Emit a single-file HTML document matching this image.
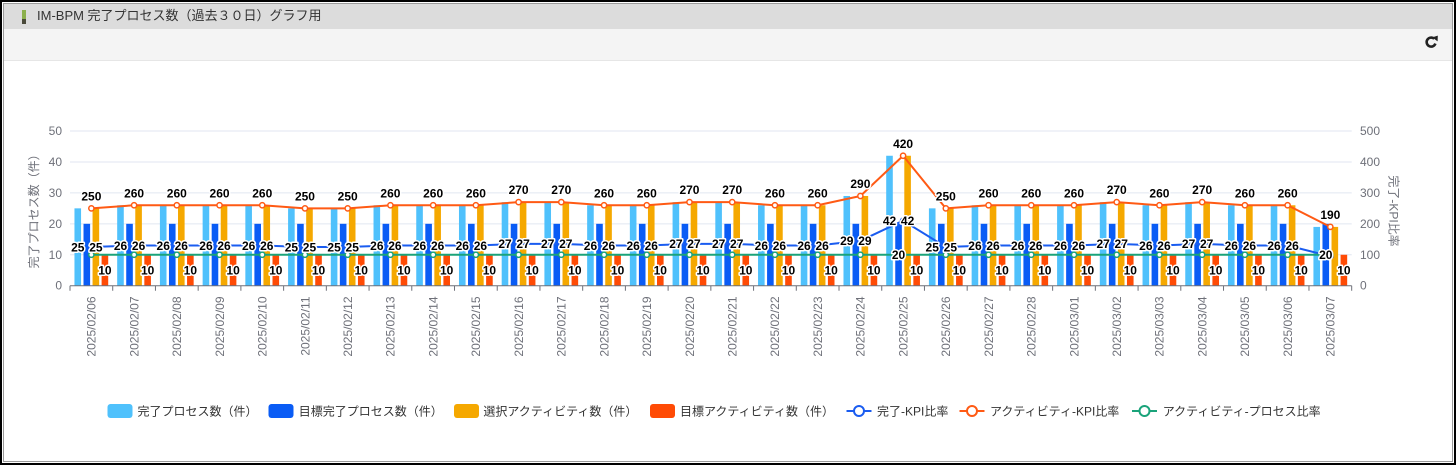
<!DOCTYPE html>
<html><head><meta charset="utf-8">
<style>
html,body{margin:0;padding:0;background:#fff;}
body{width:1456px;height:465px;position:relative;overflow:hidden;font-family:"Liberation Sans","Noto Sans CJK JP",sans-serif;}
.abs{position:absolute;box-sizing:border-box;}
</style></head>
<body>
<div class="abs" style="left:0;top:0;width:1456px;height:465px;border:2px solid #000;background:#fff;"></div>
<div class="abs" style="left:3px;top:3px;width:1450px;height:459px;border:1px solid #9a9a9a;"></div>
<div class="abs" style="left:4px;top:4px;width:1448px;height:25px;background:#dcdcdc;"></div>
<div class="abs" style="left:4px;top:29px;width:1448px;height:32px;background:#f4f4f4;border-bottom:1px solid #e6e6e6;"></div>
<div class="abs" style="left:22px;top:10px;width:4px;height:9px;background:#8cb04c;"></div>
<div class="abs" style="left:22px;top:19px;width:4px;height:5px;background:#4a4a3a;"></div>
<div class="abs" style="left:37px;top:8px;font-size:13px;line-height:16px;color:#333;white-space:nowrap;">IM-BPM 完了プロセス数（過去３０日）グラフ用</div>

<svg class="abs" style="left:0;top:0" width="1456" height="465" viewBox="0 0 1456 465" xmlns="http://www.w3.org/2000/svg">
<style>
.a{fill:#4fc1fc}.b{fill:#0a5cf5}.c{fill:#f5a800}.d{fill:#ff4b05}
.ax{font-family:"Liberation Sans","Noto Sans CJK JP",sans-serif;font-size:12px;fill:#6e7079}
.l text{font-family:"Liberation Sans",sans-serif;font-weight:bold;font-size:12px;fill:#000;stroke:#fff;stroke-width:3;paint-order:stroke;stroke-linejoin:round;text-anchor:middle}
.lg{font-family:"Liberation Sans","Noto Sans CJK JP",sans-serif;font-size:12px;fill:#333}
</style>
<defs>
<g id="g25"><rect class="a" x="-16.9" y="208.35" width="6.6" height="77.35"/><rect class="b" x="-7.85" y="223.82" width="6.6" height="61.88"/><rect class="c" x="1.2" y="208.35" width="6.6" height="77.35"/><rect class="d" x="10.25" y="254.76" width="6.6" height="30.94"/></g>
<g id="g26"><rect class="a" x="-16.9" y="205.26" width="6.6" height="80.44"/><rect class="b" x="-7.85" y="223.82" width="6.6" height="61.88"/><rect class="c" x="1.2" y="205.26" width="6.6" height="80.44"/><rect class="d" x="10.25" y="254.76" width="6.6" height="30.94"/></g>
<g id="g27"><rect class="a" x="-16.9" y="202.16" width="6.6" height="83.54"/><rect class="b" x="-7.85" y="223.82" width="6.6" height="61.88"/><rect class="c" x="1.2" y="202.16" width="6.6" height="83.54"/><rect class="d" x="10.25" y="254.76" width="6.6" height="30.94"/></g>
<g id="g29"><rect class="a" x="-16.9" y="195.97" width="6.6" height="89.73"/><rect class="b" x="-7.85" y="223.82" width="6.6" height="61.88"/><rect class="c" x="1.2" y="195.97" width="6.6" height="89.73"/><rect class="d" x="10.25" y="254.76" width="6.6" height="30.94"/></g>
<g id="g42"><rect class="a" x="-16.9" y="155.75" width="6.6" height="129.95"/><rect class="b" x="-7.85" y="223.82" width="6.6" height="61.88"/><rect class="c" x="1.2" y="155.75" width="6.6" height="129.95"/><rect class="d" x="10.25" y="254.76" width="6.6" height="30.94"/></g>
<g id="g19"><rect class="a" x="-16.9" y="226.91" width="6.6" height="58.79"/><rect class="b" x="-7.85" y="223.82" width="6.6" height="61.88"/><rect class="c" x="1.2" y="226.91" width="6.6" height="58.79"/><rect class="d" x="10.25" y="254.76" width="6.6" height="30.94"/></g>
</defs>

<!-- refresh icon -->
<path d="M1434.2 38.8 A4.5 4.5 0 1 0 1435.4 43.6" stroke="#222" stroke-width="2.6" fill="none"/>
<polygon points="1432.2,37.4 1437.8,35.6 1437.6,41.4" fill="#222"/>

<!-- gridlines -->
<g stroke="#e0e6f1" stroke-width="1">
<line x1="70" y1="131" x2="1351.7" y2="131"/>
<line x1="70" y1="161.94" x2="1351.7" y2="161.94"/>
<line x1="70" y1="192.88" x2="1351.7" y2="192.88"/>
<line x1="70" y1="223.82" x2="1351.7" y2="223.82"/>
<line x1="70" y1="254.76" x2="1351.7" y2="254.76"/>
</g>

<!-- y labels -->
<g class="ax" text-anchor="end">
<text x="62" y="289.7">0</text><text x="62" y="258.76">10</text><text x="62" y="227.82">20</text><text x="62" y="196.88">30</text><text x="62" y="165.94">40</text><text x="62" y="135">50</text>
</g>
<g class="ax" text-anchor="start">
<text x="1360" y="289.7">0</text><text x="1360" y="258.76">100</text><text x="1360" y="227.82">200</text><text x="1360" y="196.88">300</text><text x="1360" y="165.94">400</text><text x="1360" y="135">500</text>
</g>
<text class="ax" text-anchor="middle" transform="translate(38 208.4) rotate(-90)">完了プロセス数（件）</text>
<text class="ax" text-anchor="middle" transform="translate(1389.5 211) rotate(90)">完了-KPI比率</text>

<!-- bars -->
<use href="#g25" x="91.36"/><use href="#g26" x="134.08"/><use href="#g26" x="176.81"/><use href="#g26" x="219.53"/><use href="#g26" x="262.25"/>
<use href="#g25" x="304.98"/><use href="#g25" x="347.70"/><use href="#g26" x="390.42"/><use href="#g26" x="433.15"/><use href="#g26" x="475.87"/>
<use href="#g27" x="518.59"/><use href="#g27" x="561.31"/><use href="#g26" x="604.04"/><use href="#g26" x="646.76"/><use href="#g27" x="689.48"/>
<use href="#g27" x="732.21"/><use href="#g26" x="774.93"/><use href="#g26" x="817.65"/><use href="#g29" x="860.38"/><use href="#g42" x="903.10"/>
<use href="#g25" x="945.82"/><use href="#g26" x="988.54"/><use href="#g26" x="1031.27"/><use href="#g26" x="1073.99"/><use href="#g27" x="1116.71"/>
<use href="#g26" x="1159.44"/><use href="#g27" x="1202.16"/><use href="#g26" x="1244.88"/><use href="#g26" x="1287.61"/><use href="#g19" x="1330.33"/>

<!-- axis -->
<line x1="70" y1="285.7" x2="1351.7" y2="285.7" stroke="#6e7079" stroke-width="1"/>
<path stroke="#6e7079" stroke-width="1" fill="none" d="M70 285.7v5M112.72 285.7v5M155.45 285.7v5M198.17 285.7v5M240.89 285.7v5M283.62 285.7v5M326.34 285.7v5M369.06 285.7v5M411.78 285.7v5M454.51 285.7v5M497.23 285.7v5M539.95 285.7v5M582.68 285.7v5M625.40 285.7v5M668.12 285.7v5M710.85 285.7v5M753.57 285.7v5M796.29 285.7v5M839.01 285.7v5M881.74 285.7v5M924.46 285.7v5M967.18 285.7v5M1009.91 285.7v5M1052.63 285.7v5M1095.35 285.7v5M1138.08 285.7v5M1180.80 285.7v5M1223.52 285.7v5M1266.24 285.7v5M1308.97 285.7v5M1351.69 285.7v5"/>

<!-- lines -->
<polyline fill="none" stroke="#1a5cf0" stroke-width="2" stroke-linejoin="round" points="91.36,247.0 134.08,245.5 176.81,245.5 219.53,245.5 262.25,245.5 304.98,247.0 347.70,247.0 390.42,245.5 433.15,245.5 475.87,245.5 518.59,243.9 561.31,243.9 604.04,245.5 646.76,245.5 689.48,243.9 732.21,243.9 774.93,245.5 817.65,245.5 860.38,240.8 903.10,220.7 945.82,247.0 988.54,245.5 1031.27,245.5 1073.99,245.5 1116.71,243.9 1159.44,245.5 1202.16,243.9 1244.88,245.5 1287.61,245.5 1330.33,256.3"/>
<polyline fill="none" stroke="#ff5a14" stroke-width="2" stroke-linejoin="round" points="91.36,208.35 134.08,205.26 176.81,205.26 219.53,205.26 262.25,205.26 304.98,208.35 347.70,208.35 390.42,205.26 433.15,205.26 475.87,205.26 518.59,202.16 561.31,202.16 604.04,205.26 646.76,205.26 689.48,202.16 732.21,202.16 774.93,205.26 817.65,205.26 860.38,195.97 903.10,155.75 945.82,208.35 988.54,205.26 1031.27,205.26 1073.99,205.26 1116.71,202.16 1159.44,205.26 1202.16,202.16 1244.88,205.26 1287.61,205.26 1330.33,226.91"/>
<line x1="91.36" y1="254.76" x2="1330.33" y2="254.76" stroke="#1aa37a" stroke-width="2"/>

<!-- markers -->
<g fill="#fff" stroke="#1a5cf0" stroke-width="1.5">
<circle cx="91.36" cy="247.0" r="2.6"/><circle cx="134.08" cy="245.5" r="2.6"/><circle cx="176.81" cy="245.5" r="2.6"/><circle cx="219.53" cy="245.5" r="2.6"/><circle cx="262.25" cy="245.5" r="2.6"/><circle cx="304.98" cy="247.0" r="2.6"/><circle cx="347.70" cy="247.0" r="2.6"/><circle cx="390.42" cy="245.5" r="2.6"/><circle cx="433.15" cy="245.5" r="2.6"/><circle cx="475.87" cy="245.5" r="2.6"/><circle cx="518.59" cy="243.9" r="2.6"/><circle cx="561.31" cy="243.9" r="2.6"/><circle cx="604.04" cy="245.5" r="2.6"/><circle cx="646.76" cy="245.5" r="2.6"/><circle cx="689.48" cy="243.9" r="2.6"/><circle cx="732.21" cy="243.9" r="2.6"/><circle cx="774.93" cy="245.5" r="2.6"/><circle cx="817.65" cy="245.5" r="2.6"/><circle cx="860.38" cy="240.8" r="2.6"/><circle cx="903.10" cy="220.7" r="2.6"/><circle cx="945.82" cy="247.0" r="2.6"/><circle cx="988.54" cy="245.5" r="2.6"/><circle cx="1031.27" cy="245.5" r="2.6"/><circle cx="1073.99" cy="245.5" r="2.6"/><circle cx="1116.71" cy="243.9" r="2.6"/><circle cx="1159.44" cy="245.5" r="2.6"/><circle cx="1202.16" cy="243.9" r="2.6"/><circle cx="1244.88" cy="245.5" r="2.6"/><circle cx="1287.61" cy="245.5" r="2.6"/><circle cx="1330.33" cy="256.3" r="2.6"/>
</g>
<g fill="#fff" stroke="#ff5a14" stroke-width="1.5">
<circle cx="91.36" cy="208.35" r="2.6"/><circle cx="134.08" cy="205.26" r="2.6"/><circle cx="176.81" cy="205.26" r="2.6"/><circle cx="219.53" cy="205.26" r="2.6"/><circle cx="262.25" cy="205.26" r="2.6"/><circle cx="304.98" cy="208.35" r="2.6"/><circle cx="347.70" cy="208.35" r="2.6"/><circle cx="390.42" cy="205.26" r="2.6"/><circle cx="433.15" cy="205.26" r="2.6"/><circle cx="475.87" cy="205.26" r="2.6"/><circle cx="518.59" cy="202.16" r="2.6"/><circle cx="561.31" cy="202.16" r="2.6"/><circle cx="604.04" cy="205.26" r="2.6"/><circle cx="646.76" cy="205.26" r="2.6"/><circle cx="689.48" cy="202.16" r="2.6"/><circle cx="732.21" cy="202.16" r="2.6"/><circle cx="774.93" cy="205.26" r="2.6"/><circle cx="817.65" cy="205.26" r="2.6"/><circle cx="860.38" cy="195.97" r="2.6"/><circle cx="903.10" cy="155.75" r="2.6"/><circle cx="945.82" cy="208.35" r="2.6"/><circle cx="988.54" cy="205.26" r="2.6"/><circle cx="1031.27" cy="205.26" r="2.6"/><circle cx="1073.99" cy="205.26" r="2.6"/><circle cx="1116.71" cy="202.16" r="2.6"/><circle cx="1159.44" cy="205.26" r="2.6"/><circle cx="1202.16" cy="202.16" r="2.6"/><circle cx="1244.88" cy="205.26" r="2.6"/><circle cx="1287.61" cy="205.26" r="2.6"/><circle cx="1330.33" cy="226.91" r="2.6"/>
</g>
<g fill="#fff" stroke="#1aa37a" stroke-width="1.5">
<circle cx="91.36" cy="254.76" r="2.6"/><circle cx="134.08" cy="254.76" r="2.6"/><circle cx="176.81" cy="254.76" r="2.6"/><circle cx="219.53" cy="254.76" r="2.6"/><circle cx="262.25" cy="254.76" r="2.6"/><circle cx="304.98" cy="254.76" r="2.6"/><circle cx="347.70" cy="254.76" r="2.6"/><circle cx="390.42" cy="254.76" r="2.6"/><circle cx="433.15" cy="254.76" r="2.6"/><circle cx="475.87" cy="254.76" r="2.6"/><circle cx="518.59" cy="254.76" r="2.6"/><circle cx="561.31" cy="254.76" r="2.6"/><circle cx="604.04" cy="254.76" r="2.6"/><circle cx="646.76" cy="254.76" r="2.6"/><circle cx="689.48" cy="254.76" r="2.6"/><circle cx="732.21" cy="254.76" r="2.6"/><circle cx="774.93" cy="254.76" r="2.6"/><circle cx="817.65" cy="254.76" r="2.6"/><circle cx="860.38" cy="254.76" r="2.6"/><circle cx="903.10" cy="254.76" r="2.6"/><circle cx="945.82" cy="254.76" r="2.6"/><circle cx="988.54" cy="254.76" r="2.6"/><circle cx="1031.27" cy="254.76" r="2.6"/><circle cx="1073.99" cy="254.76" r="2.6"/><circle cx="1116.71" cy="254.76" r="2.6"/><circle cx="1159.44" cy="254.76" r="2.6"/><circle cx="1202.16" cy="254.76" r="2.6"/><circle cx="1244.88" cy="254.76" r="2.6"/><circle cx="1287.61" cy="254.76" r="2.6"/><circle cx="1330.33" cy="254.76" r="2.6"/>
</g>

<!-- x labels -->
<g class="ax" text-anchor="end">
<text transform="translate(95.66 296.5) rotate(-90)">2025/02/06</text>
<text transform="translate(138.38 296.5) rotate(-90)">2025/02/07</text>
<text transform="translate(181.11 296.5) rotate(-90)">2025/02/08</text>
<text transform="translate(223.83 296.5) rotate(-90)">2025/02/09</text>
<text transform="translate(266.55 296.5) rotate(-90)">2025/02/10</text>
<text transform="translate(309.28 296.5) rotate(-90)">2025/02/11</text>
<text transform="translate(352.00 296.5) rotate(-90)">2025/02/12</text>
<text transform="translate(394.72 296.5) rotate(-90)">2025/02/13</text>
<text transform="translate(437.45 296.5) rotate(-90)">2025/02/14</text>
<text transform="translate(480.17 296.5) rotate(-90)">2025/02/15</text>
<text transform="translate(522.89 296.5) rotate(-90)">2025/02/16</text>
<text transform="translate(565.61 296.5) rotate(-90)">2025/02/17</text>
<text transform="translate(608.34 296.5) rotate(-90)">2025/02/18</text>
<text transform="translate(651.06 296.5) rotate(-90)">2025/02/19</text>
<text transform="translate(693.78 296.5) rotate(-90)">2025/02/20</text>
<text transform="translate(736.51 296.5) rotate(-90)">2025/02/21</text>
<text transform="translate(779.23 296.5) rotate(-90)">2025/02/22</text>
<text transform="translate(821.95 296.5) rotate(-90)">2025/02/23</text>
<text transform="translate(864.68 296.5) rotate(-90)">2025/02/24</text>
<text transform="translate(907.40 296.5) rotate(-90)">2025/02/25</text>
<text transform="translate(950.12 296.5) rotate(-90)">2025/02/26</text>
<text transform="translate(992.84 296.5) rotate(-90)">2025/02/27</text>
<text transform="translate(1035.57 296.5) rotate(-90)">2025/02/28</text>
<text transform="translate(1078.29 296.5) rotate(-90)">2025/03/01</text>
<text transform="translate(1121.01 296.5) rotate(-90)">2025/03/02</text>
<text transform="translate(1163.74 296.5) rotate(-90)">2025/03/03</text>
<text transform="translate(1206.46 296.5) rotate(-90)">2025/03/04</text>
<text transform="translate(1249.18 296.5) rotate(-90)">2025/03/05</text>
<text transform="translate(1291.91 296.5) rotate(-90)">2025/03/06</text>
<text transform="translate(1334.63 296.5) rotate(-90)">2025/03/07</text>
</g>

<!-- data labels -->
<g class="l">
<g transform="translate(91.36 0)"><text x="-13.6" y="251.3">25</text><text x="4.5" y="251.3">25</text><text x="13.55" y="274.5">10</text><text x="0" y="200.35">250</text></g>
<g transform="translate(134.08 0)"><text x="-13.6" y="249.8">26</text><text x="4.5" y="249.8">26</text><text x="13.55" y="274.5">10</text><text x="0" y="197.26">260</text></g>
<g transform="translate(176.81 0)"><text x="-13.6" y="249.8">26</text><text x="4.5" y="249.8">26</text><text x="13.55" y="274.5">10</text><text x="0" y="197.26">260</text></g>
<g transform="translate(219.53 0)"><text x="-13.6" y="249.8">26</text><text x="4.5" y="249.8">26</text><text x="13.55" y="274.5">10</text><text x="0" y="197.26">260</text></g>
<g transform="translate(262.25 0)"><text x="-13.6" y="249.8">26</text><text x="4.5" y="249.8">26</text><text x="13.55" y="274.5">10</text><text x="0" y="197.26">260</text></g>
<g transform="translate(304.98 0)"><text x="-13.6" y="251.3">25</text><text x="4.5" y="251.3">25</text><text x="13.55" y="274.5">10</text><text x="0" y="200.35">250</text></g>
<g transform="translate(347.70 0)"><text x="-13.6" y="251.3">25</text><text x="4.5" y="251.3">25</text><text x="13.55" y="274.5">10</text><text x="0" y="200.35">250</text></g>
<g transform="translate(390.42 0)"><text x="-13.6" y="249.8">26</text><text x="4.5" y="249.8">26</text><text x="13.55" y="274.5">10</text><text x="0" y="197.26">260</text></g>
<g transform="translate(433.15 0)"><text x="-13.6" y="249.8">26</text><text x="4.5" y="249.8">26</text><text x="13.55" y="274.5">10</text><text x="0" y="197.26">260</text></g>
<g transform="translate(475.87 0)"><text x="-13.6" y="249.8">26</text><text x="4.5" y="249.8">26</text><text x="13.55" y="274.5">10</text><text x="0" y="197.26">260</text></g>
<g transform="translate(518.59 0)"><text x="-13.6" y="248.2">27</text><text x="4.5" y="248.2">27</text><text x="13.55" y="274.5">10</text><text x="0" y="194.16">270</text></g>
<g transform="translate(561.31 0)"><text x="-13.6" y="248.2">27</text><text x="4.5" y="248.2">27</text><text x="13.55" y="274.5">10</text><text x="0" y="194.16">270</text></g>
<g transform="translate(604.04 0)"><text x="-13.6" y="249.8">26</text><text x="4.5" y="249.8">26</text><text x="13.55" y="274.5">10</text><text x="0" y="197.26">260</text></g>
<g transform="translate(646.76 0)"><text x="-13.6" y="249.8">26</text><text x="4.5" y="249.8">26</text><text x="13.55" y="274.5">10</text><text x="0" y="197.26">260</text></g>
<g transform="translate(689.48 0)"><text x="-13.6" y="248.2">27</text><text x="4.5" y="248.2">27</text><text x="13.55" y="274.5">10</text><text x="0" y="194.16">270</text></g>
<g transform="translate(732.21 0)"><text x="-13.6" y="248.2">27</text><text x="4.5" y="248.2">27</text><text x="13.55" y="274.5">10</text><text x="0" y="194.16">270</text></g>
<g transform="translate(774.93 0)"><text x="-13.6" y="249.8">26</text><text x="4.5" y="249.8">26</text><text x="13.55" y="274.5">10</text><text x="0" y="197.26">260</text></g>
<g transform="translate(817.65 0)"><text x="-13.6" y="249.8">26</text><text x="4.5" y="249.8">26</text><text x="13.55" y="274.5">10</text><text x="0" y="197.26">260</text></g>
<g transform="translate(860.38 0)"><text x="-13.6" y="245.1">29</text><text x="4.5" y="245.1">29</text><text x="13.55" y="274.5">10</text><text x="0" y="187.97">290</text></g>
<g transform="translate(903.10 0)"><text x="-13.6" y="225.0">42</text><text x="4.5" y="225.0">42</text><text x="-4.55" y="259.1">20</text><text x="13.55" y="274.5">10</text><text x="0" y="147.75">420</text></g>
<g transform="translate(945.82 0)"><text x="-13.6" y="251.3">25</text><text x="4.5" y="251.3">25</text><text x="13.55" y="274.5">10</text><text x="0" y="200.35">250</text></g>
<g transform="translate(988.54 0)"><text x="-13.6" y="249.8">26</text><text x="4.5" y="249.8">26</text><text x="13.55" y="274.5">10</text><text x="0" y="197.26">260</text></g>
<g transform="translate(1031.27 0)"><text x="-13.6" y="249.8">26</text><text x="4.5" y="249.8">26</text><text x="13.55" y="274.5">10</text><text x="0" y="197.26">260</text></g>
<g transform="translate(1073.99 0)"><text x="-13.6" y="249.8">26</text><text x="4.5" y="249.8">26</text><text x="13.55" y="274.5">10</text><text x="0" y="197.26">260</text></g>
<g transform="translate(1116.71 0)"><text x="-13.6" y="248.2">27</text><text x="4.5" y="248.2">27</text><text x="13.55" y="274.5">10</text><text x="0" y="194.16">270</text></g>
<g transform="translate(1159.44 0)"><text x="-13.6" y="249.8">26</text><text x="4.5" y="249.8">26</text><text x="13.55" y="274.5">10</text><text x="0" y="197.26">260</text></g>
<g transform="translate(1202.16 0)"><text x="-13.6" y="248.2">27</text><text x="4.5" y="248.2">27</text><text x="13.55" y="274.5">10</text><text x="0" y="194.16">270</text></g>
<g transform="translate(1244.88 0)"><text x="-13.6" y="249.8">26</text><text x="4.5" y="249.8">26</text><text x="13.55" y="274.5">10</text><text x="0" y="197.26">260</text></g>
<g transform="translate(1287.61 0)"><text x="-13.6" y="249.8">26</text><text x="4.5" y="249.8">26</text><text x="13.55" y="274.5">10</text><text x="0" y="197.26">260</text></g>
<g transform="translate(1330.33 0)"><text x="-4.55" y="259.1">20</text><text x="13.55" y="274.5">10</text><text x="0" y="218.9">190</text></g>
</g>

<!-- legend -->
<rect x="107.5" y="404" width="25" height="14" rx="3" class="a"/>
<text class="lg" x="137.5" y="415.5">完了プロセス数（件）</text>
<rect x="268.5" y="404" width="25" height="14" rx="3" class="b"/>
<text class="lg" x="298.8" y="415.5">目標完了プロセス数（件）</text>
<rect x="454" y="404" width="25" height="14" rx="3" class="c"/>
<text class="lg" x="483.4" y="415.5">選択アクティビティ数（件）</text>
<rect x="650" y="404" width="25" height="14" rx="3" class="d"/>
<text class="lg" x="680" y="415.5">目標アクティビティ数（件）</text>
<line x1="846.5" y1="411" x2="871.5" y2="411" stroke="#1a5cf0" stroke-width="2"/>
<circle cx="859" cy="411" r="5" fill="#fff" stroke="#1a5cf0" stroke-width="2"/>
<text class="lg" x="877" y="415.5">完了-KPI比率</text>
<line x1="959.5" y1="411" x2="984.5" y2="411" stroke="#ff5a14" stroke-width="2"/>
<circle cx="972" cy="411" r="5" fill="#fff" stroke="#ff5a14" stroke-width="2"/>
<text class="lg" x="990" y="415.5">アクティビティ-KPI比率</text>
<line x1="1132" y1="411" x2="1157" y2="411" stroke="#1aa37a" stroke-width="2"/>
<circle cx="1144.5" cy="411" r="5" fill="#fff" stroke="#1aa37a" stroke-width="2"/>
<text class="lg" x="1162.7" y="415.5">アクティビティ-プロセス比率</text>
</svg>
</body></html>
